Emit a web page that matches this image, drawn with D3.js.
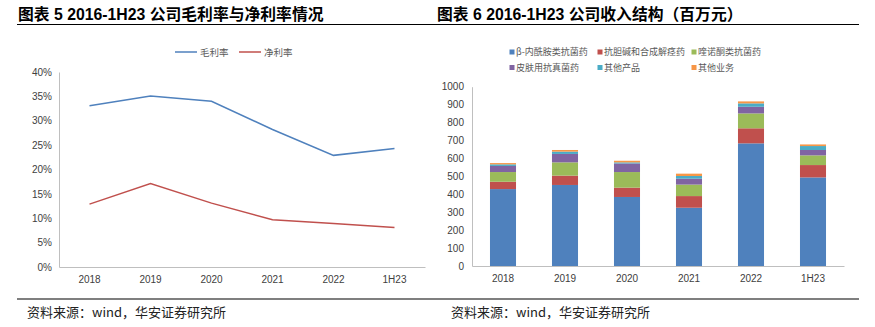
<!DOCTYPE html>
<html><head><meta charset="utf-8">
<script src="https://cdn.jsdelivr.net/npm/d3@7"></script>
<style>
body{margin:0;background:#fff;}
svg{display:block;}
text{font-family:"Liberation Sans",Arial,"Noto Sans CJK SC",sans-serif;}
.cjk{font-family:"Noto Sans CJK SC",sans-serif;}
</style></head>
<body>
<svg id="c" width="875" height="327"></svg>
<script>
// ---- data ----
const categories = ["2018","2019","2020","2021","2022","1H23"];
const grossMargin = [33.1, 35.1, 34.0, 28.2, 22.9, 24.3];
const netMargin   = [12.9, 17.1, 13.1, 9.7, 8.9, 8.1];
const marginTicks = [0,5,10,15,20,25,30,35,40];
const marginSeries = ["毛利率","净利率"];

const revSeries = ["β-内酰胺类抗菌药","抗胆碱和合成解痉药","喹诺酮类抗菌药","皮肤用抗真菌药","其他产品","其他业务"];
const betaLactam   = [429, 452, 385, 325, 684, 494];
const anticholin   = [41, 52, 52, 65, 84, 69];
const quinolone    = [54, 74, 87, 64, 83, 54];
const antifungal   = [34, 47, 48, 33, 37, 30];
const otherProduct = [9, 13, 6, 15, 19, 22];
const otherBiz     = [7, 9, 9, 13, 11, 9];
const revTicks = [0,100,200,300,400,500,600,700,800,900,1000];

const title1 = "图表 5 2016-1H23 公司毛利率与净利率情况";
const title2 = "图表 6 2016-1H23 公司收入结构（百万元）";
const source = "资料来源：wind，华安证券研究所";

const lineColors = ["#4F81BD","#C0504D"];
const barColors = ["#4F81BD","#C0504D","#9BBB59","#8064A2","#4BACC6","#F79646"];

const svg = d3.select("#c");

// titles and rules
svg.append("text").attr("x",18).attr("y",19.5).attr("font-size",15.8).attr("font-weight","bold").attr("fill","#000").text(title1);
svg.append("text").attr("x",437).attr("y",19.5).attr("font-size",15.8).attr("font-weight","bold").attr("fill","#000").text(title2);
svg.append("line").attr("x1",17).attr("x2",859).attr("y1",24.5).attr("y2",24.5).attr("stroke","#000").attr("stroke-width",1.2);
svg.append("line").attr("x1",17).attr("x2",859).attr("y1",299).attr("y2",299).attr("stroke","#000").attr("stroke-width",1.2);
svg.append("text").attr("class","cjk").attr("x",27).attr("y",317).attr("font-size",13).attr("fill","#222").text(source);
svg.append("text").attr("class","cjk").attr("x",451).attr("y",317).attr("font-size",13).attr("fill","#222").text(source);

const axisColor = "#BFBFBF", tickTextColor = "#404040";

// ---- left chart ----
{
  const x = d3.scaleBand().domain(categories).range([59,425]);
  const y = d3.scaleLinear().domain([0,40]).range([267,72]);
  const g = svg.append("g");
  const ya = g.append("g").attr("transform","translate(59,0)")
    .call(d3.axisLeft(y).tickValues(marginTicks).tickFormat(d=>d+"%").tickSize(0).tickPadding(7));
  ya.select(".domain").attr("stroke",axisColor);
  ya.selectAll("text").attr("font-size",10).attr("fill",tickTextColor).attr("font-family","Liberation Sans, Arial");
  const xa = g.append("g").attr("transform","translate(0,267)")
    .call(d3.axisBottom(x).tickSize(0).tickPadding(9));
  xa.select(".domain").attr("stroke",axisColor);
  xa.selectAll("text").attr("font-size",10).attr("fill",tickTextColor).attr("font-family","Liberation Sans, Arial");
  const line = d3.line().x((d,i)=>x(categories[i])+x.bandwidth()/2).y(d=>y(d));
  [grossMargin, netMargin].forEach((s,k)=>{
    g.append("path").datum(s).attr("d",line).attr("fill","none").attr("stroke",lineColors[k]).attr("stroke-width",1.5);
  });
  // legend
  const lx = [175, 239];
  marginSeries.forEach((n,k)=>{
    g.append("line").attr("x1",lx[k]).attr("x2",lx[k]+22).attr("y1",52).attr("y2",52).attr("stroke",lineColors[k]).attr("stroke-width",1.5);
    g.append("text").attr("class","cjk").attr("x",lx[k]+25).attr("y",55.5).attr("font-size",9.5).attr("fill","#595959").text(n);
  });
}

// ---- right chart ----
{
  const x = d3.scaleBand().domain(categories).range([472,844]).paddingInner(0.58).paddingOuter(0.29);
  const y = d3.scaleLinear().domain([0,1000]).range([266,86.7]);
  const g = svg.append("g");
  const ya = g.append("g").attr("transform","translate(472,0)")
    .call(d3.axisLeft(y).tickValues(revTicks).tickFormat(d3.format("d")).tickSize(0).tickPadding(8));
  ya.select(".domain").attr("stroke",axisColor);
  ya.selectAll("text").attr("font-size",10).attr("fill",tickTextColor).attr("font-family","Liberation Sans, Arial");
  const rows = categories.map((c,i)=>{
    const o = {cat:c};
    [betaLactam,anticholin,quinolone,antifungal,otherProduct,otherBiz].forEach((s,k)=>o[revSeries[k]]=s[i]);
    return o;
  });
  const stacked = d3.stack().keys(revSeries)(rows);
  stacked.forEach((layer,k)=>{
    g.append("g").selectAll("rect").data(layer).join("rect")
      .attr("x",d=>x(d.data.cat)).attr("width",x.bandwidth())
      .attr("y",d=>y(d[1])).attr("height",d=>y(d[0])-y(d[1]))
      .attr("fill",barColors[k]);
  });
  const xa = g.append("g").attr("transform","translate(0,266)")
    .call(d3.axisBottom(x).tickSize(0).tickPadding(9));
  xa.select(".domain").attr("stroke",axisColor);
  xa.selectAll("text").attr("font-size",10).attr("fill",tickTextColor).attr("font-family","Liberation Sans, Arial");
  // legend
  const pos = [[512,52],[600,52],[694,52],[512,67.5],[600,67.5],[694,67.5]];
  revSeries.forEach((n,k)=>{
    g.append("rect").attr("x",pos[k][0]-2.5).attr("y",pos[k][1]-2.5).attr("width",5).attr("height",5).attr("fill",barColors[k]);
    g.append("text").attr("class","cjk").attr("x",pos[k][0]+4).attr("y",pos[k][1]+3.3).attr("font-size",9).attr("fill","#595959").text(n);
  });
}
</script>
</body></html>
